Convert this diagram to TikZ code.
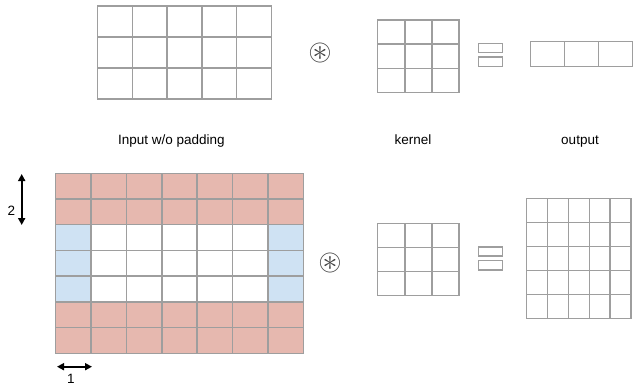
\documentclass[tikz,border=0pt]{standalone}
\usepackage{amssymb}
\usepackage{fontspec}
\setmainfont{Liberation Sans}
\usetikzlibrary{arrows.meta}
\definecolor{cellgray}{HTML}{9E9E9E}
\definecolor{padred}{HTML}{E6B8AF}
\definecolor{padblue}{HTML}{CFE2F3}
\definecolor{symgray}{HTML}{404040}
\tikzset{
  cell/.style={draw=cellgray, line width=1.4pt},
  eqbar/.style={draw=cellgray, line width=1.2pt},
  padarrow/.style={{Triangle[length=7pt,width=7pt]}-{Triangle[length=7pt,width=7pt]}, line width=1.8pt},
  caption/.style={font=\fontsize{13.5}{16}\selectfont, anchor=base},
  convsym/.style={text=symgray, inner sep=0pt, font=\fontsize{30}{30}\selectfont},
}

\begin{document}
\begin{tikzpicture}[x=1pt,y=-1pt]
        \useasboundingbox (0,0) rectangle (634,386);

        % top row: no padding
        \foreach \c in {0,...,4}
          \foreach \r in {0,...,2}
            \draw[cell] (97.5+\c*34.8,6+\r*31) rectangle ++(34.8,31);
        \node[convsym] (convtop) at (320,53) {$\circledast$};
        \foreach \c in {0,...,2}
          \foreach \r in {0,...,2}
            \draw[cell] (377.7+\c*27.1,20+\r*24.1) rectangle ++(27.1,24.1);
        \draw[eqbar] (478.3,43.7) rectangle (502.3,52.3);
        \draw[eqbar] (478.3,57) rectangle (502.3,66.7);
        \foreach \c in {0,...,2}
          \draw[cell] (530.7+\c*34,41.7) rectangle ++(34,24.6);

        \node[caption] (inlabel) at (171.4,144) {Input w/o padding};
        \node[caption] (kernlabel) at (413,144) {kernel};
        \node[caption] (outlabel) at (580,144) {output};

        % bottom row: padded input
        \fill[padred] (55.7,173.3) rectangle (303.3,224.73);
        \fill[padred] (55.7,301.86) rectangle (303.3,353.3);
        \fill[padblue] (55.7,224.73) rectangle (91.07,301.86);
        \fill[padblue] (267.92,224.73) rectangle (303.3,301.86);
        \foreach \c in {0,...,6}
          \foreach \r in {0,...,6}
            \draw[cell] (55.7+\c*35.37,173.3+\r*25.71) rectangle ++(35.37,25.71);

        \coordinate (vtop) at (21.7,174);
        \coordinate (vbot) at (21.7,225);
        \draw[padarrow] (vtop) -- (vbot);
        \node[caption] (vpad) at (11.3,215) {2};
        \coordinate (hleft) at (57,366.7);
        \coordinate (hright) at (92,366.7);
        \draw[padarrow] (hleft) -- (hright);
        \node[caption] (hpad) at (71,383.5) {1};

        \node[convsym] (convbot) at (330,263) {$\circledast$};
        \foreach \c in {0,...,2}
          \foreach \r in {0,...,2}
            \draw[cell] (377.7+\c*27.1,223.3+\r*24.1) rectangle ++(27.1,24.1);
        \draw[eqbar] (478.3,247) rectangle (502.3,256);
        \draw[eqbar] (478.3,260.7) rectangle (502.3,270);
        \foreach \c in {0,...,4}
          \foreach \r in {0,...,4}
            \draw[cell] (526.7+\c*20.86,198.3+\r*24) rectangle ++(20.86,24);
\end{tikzpicture}
\end{document}
